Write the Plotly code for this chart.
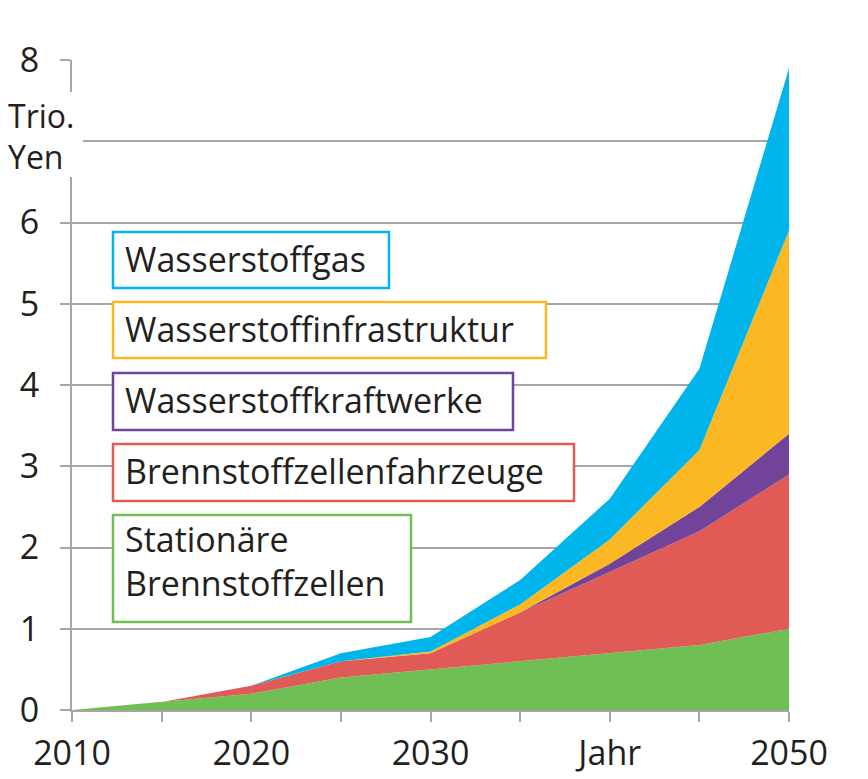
import plotly.graph_objects as go

years = [2010, 2015, 2020, 2025, 2030, 2035, 2040, 2045, 2050]
stationaer = [0, 0.1, 0.2, 0.4, 0.5, 0.6, 0.7, 0.8, 1.0]
fahrzeuge = [0, 0, 0.1, 0.2, 0.2, 0.6, 1.0, 1.4, 1.9]
kraftwerke = [0, 0, 0, 0, 0, 0, 0.1, 0.3, 0.5]
infrastruktur = [0, 0, 0, 0, 0.02, 0.1, 0.3, 0.7, 2.5]
gas = [0, 0, 0, 0.1, 0.18, 0.3, 0.5, 1.0, 2.0]

series_names = ["Stationäre Brennstoffzellen", "Brennstoffzellenfahrzeuge",
                "Wasserstoffkraftwerke", "Wasserstoffinfrastruktur", "Wasserstoffgas"]
series_vals = [stationaer, fahrzeuge, kraftwerke, infrastruktur, gas]
colors = ["#70BF55", "#E05A56", "#714399", "#FBB823", "#00B5EC"]

x_tickvals = [2010, 2015, 2020, 2025, 2030, 2035, 2040, 2045, 2050]
x_ticktext = ["2010", "", "2020", "", "2030", "", "Jahr", "", "2050"]
y_tickvals = [0, 1, 2, 3, 4, 5, 6, 7, 8]
y_ticktext = ["0", "1", "2", "3", "4", "5", "6", "", "8"]

FONT = "Open Sans"
TXT = "#231F20"
GRID = "#A6A6A6"

# page offset (browser body margin) and plot-area geometry in screenshot pixels
OFF = 8
PL, PR, PT, PB = 72, 789, 60, 710
W, H = 868, 779


def px(xp):
    return (xp - PL) / (PR - PL)


def py(yp):
    return (PB - yp) / (PB - PT)


fig = go.Figure()
for name, vals, col in zip(series_names, series_vals, colors):
    fig.add_trace(go.Scatter(x=years, y=vals, name=name, stackgroup="one",
                             mode="lines", line=dict(width=0, color=col),
                             fillcolor=col, showlegend=False))

fig.update_layout(
    width=W, height=H,
    margin=dict(l=PL - OFF, r=W + OFF - PR, t=PT - OFF, b=H + OFF - PB, autoexpand=False),
    plot_bgcolor="white", paper_bgcolor="white",
    font=dict(family=FONT, color=TXT, size=34),
    xaxis=dict(range=[2010, 2050], tickmode="array", tickvals=x_tickvals,
               ticktext=x_ticktext, ticks="outside", ticklen=10, tickwidth=2,
               tickcolor=GRID, showline=True, linecolor=GRID, linewidth=2,
               showgrid=False, zeroline=False, tickfont=dict(size=34),
               ticklabelstandoff=2),
    yaxis=dict(range=[0, 8], tickmode="array", tickvals=y_tickvals,
               ticktext=y_ticktext,
               ticks="outside", ticklen=10, tickwidth=2, tickcolor=GRID,
               showline=True, linecolor=GRID, linewidth=2,
               showgrid=True, gridcolor=GRID, gridwidth=2, zeroline=False,
               tickfont=dict(size=34), ticklabelstandoff=14),
)

# white cover behind the unit label (hides axis line around 7)
fig.add_shape(type="rect", xref="paper", yref="paper", layer="above",
              x0=px(OFF), x1=px(83), y0=py(177), y1=py(92),
              fillcolor="white", line=dict(width=0))
fig.add_annotation(xref="paper", yref="paper", x=px(OFF - 2), y=py(116),
                   xanchor="left", yanchor="middle", text="Trio.",
                   showarrow=False, font=dict(size=32))
fig.add_annotation(xref="paper", yref="paper", x=px(OFF - 2), y=py(156),
                   xanchor="left", yanchor="middle", text="Yen",
                   showarrow=False, font=dict(size=32))

# legend boxes: (text, colour, left, top, right, bottom, text centre)
legend_boxes = [
    ("Wasserstoffgas", colors[4], 113, 232, 389, 288, 259),
    ("Wasserstoffinfrastruktur", colors[3], 113, 302, 546, 358, 329),
    ("Wasserstoffkraftwerke", colors[2], 113, 373, 513, 430, 400),
    ("Brennstoffzellenfahrzeuge", colors[1], 113, 444, 574, 501, 471),
    ("Stationäre<br>Brennstoffzellen", colors[0], 113, 515, 411, 622, 561),
]
for text, col, x0, y0, x1, y1, yc in legend_boxes:
    fig.add_shape(type="rect", xref="paper", yref="paper", layer="above",
                  x0=px(x0), x1=px(x1), y0=py(y1), y1=py(y0),
                  fillcolor="white", line=dict(color=col, width=2.5))
    fig.add_annotation(xref="paper", yref="paper", x=px(123), y=py(yc),
                       xanchor="left", yanchor="middle", align="left", text=text,
                       showarrow=False, font=dict(size=34))

fig.write_html("out.html")
